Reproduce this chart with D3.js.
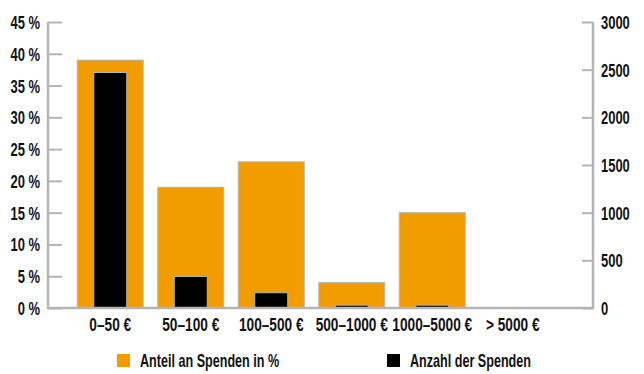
<!DOCTYPE html>
<html>
<head>
<meta charset="utf-8">
<script src="https://cdn.jsdelivr.net/npm/d3@7"></script>
<style>
body { margin: 0; background: #fff; }
text { font-family: "Liberation Sans", Arial, sans-serif; font-weight: bold; fill: #111; }
</style>
</head>
<body>
<svg></svg>
<script>
var categories = ["0–50 €", "50–100 €", "100–500 €", "500–1000 €", "1000–5000 €", "> 5000 €"];
var anteil = [39, 19, 23, 4, 15, 0];
var anzahl = [2470, 330, 160, 30, 30, 0];
var leftTicks = [0, 5, 10, 15, 20, 25, 30, 35, 40, 45];
var rightTicks = [0, 500, 1000, 1500, 2000, 2500, 3000];

var screen = {width: 644, height: 374};
var orange = "#f39c00";
var grey = "#b4b4b8";
var squeeze = 0.72;

// narrow font look: scale text horizontally, keep its anchor point
var condense = function(sel)
{
    sel.each(function()
    {
        var t = d3.select(this);
        var x = +t.attr("x") || 0;
        t.attr("x", x / squeeze).attr("transform", "scale(" + squeeze + ",1)");
    });
}

var svg = d3.select("svg")
    .attr("width", screen.width)
    .attr("height", screen.height);

var xScale = d3.scaleBand()
    .domain(categories)
    .range([70, 553])
    .paddingInner(0.18)
    .paddingOuter(0.09);

var yLeft = d3.scaleLinear().domain([0, 45]).range([308, 22]);
var yRight = d3.scaleLinear().domain([0, 3000]).range([308, 22]);

// orange bars
svg.selectAll("rect.anteil")
    .data(anteil)
    .enter()
    .append("rect")
    .attr("class", "anteil")
    .attr("x", function(d, i){ return xScale(categories[i]); })
    .attr("y", function(d){ return yLeft(d); })
    .attr("width", xScale.bandwidth())
    .attr("height", function(d){ return yLeft(0) - yLeft(d); })
    .attr("fill", orange)
    .attr("stroke", grey)
    .attr("stroke-width", 1)
    .style("display", function(d){ return d > 0 ? null : "none"; });

// black bars
var bw = xScale.bandwidth() * 0.5;
svg.selectAll("rect.anzahl")
    .data(anzahl)
    .enter()
    .append("rect")
    .attr("class", "anzahl")
    .attr("x", function(d, i){ return xScale(categories[i]) + (xScale.bandwidth() - bw) / 2; })
    .attr("y", function(d){ return yRight(d); })
    .attr("width", bw)
    .attr("height", function(d){ return yRight(0) - yRight(d); })
    .attr("fill", "#000")
    .attr("stroke", grey)
    .attr("stroke-width", 1)
    .style("display", function(d){ return d > 0 ? null : "none"; });

// left axis
var leftAxis = d3.axisRight(yLeft)
    .tickValues(leftTicks)
    .tickSize(14)
    .tickFormat(function(d){ return d + " %"; });
var gl = svg.append("g").attr("transform", "translate(48,0)").call(leftAxis);
gl.select(".domain").remove();
gl.attr("font-family", null).attr("font-size", null);
gl.selectAll(".tick line").attr("stroke", grey).attr("stroke-width", 2);
gl.selectAll(".tick text").attr("x", -8).attr("dy", "0.36em").attr("text-anchor", "end")
    .attr("font-size", 18).call(condense);

// right axis
var rightAxis = d3.axisLeft(yRight)
    .tickValues(rightTicks)
    .tickSize(11)
    .tickFormat(function(d){ return d; });
var gr = svg.append("g").attr("transform", "translate(593,0)").call(rightAxis);
gr.select(".domain").remove();
gr.attr("font-family", null).attr("font-size", null);
gr.selectAll(".tick line").attr("stroke", grey).attr("stroke-width", 2);
gr.selectAll(".tick text").attr("x", 8).attr("dy", "0.36em").attr("text-anchor", "start")
    .attr("font-size", 18).call(condense);

// axis frame lines
svg.append("line").attr("x1", 48).attr("x2", 48).attr("y1", 22).attr("y2", 309)
    .attr("stroke", grey).attr("stroke-width", 2.5);
svg.append("line").attr("x1", 593).attr("x2", 593).attr("y1", 22).attr("y2", 309)
    .attr("stroke", grey).attr("stroke-width", 2.5);
svg.append("line").attr("x1", 47).attr("x2", 594).attr("y1", 308).attr("y2", 308)
    .attr("stroke", grey).attr("stroke-width", 2.5);

// category labels
var xAxis = d3.axisBottom(xScale).tickSize(0).tickPadding(0);
var gx = svg.append("g").attr("transform", "translate(0,308)").call(xAxis);
gx.select(".domain").remove();
gx.attr("font-family", null).attr("font-size", null);
gx.selectAll(".tick text").attr("y", 23).attr("dy", 0).attr("font-size", 19).call(condense);

// legend
var legend = [
    {label: "Anteil an Spenden in %", color: orange, x: 117},
    {label: "Anzahl der Spenden", color: "#000", x: 387}
];
var lg = svg.selectAll("g.legend")
    .data(legend)
    .enter()
    .append("g")
    .attr("class", "legend")
    .attr("transform", function(d){ return "translate(" + d.x + ",354)"; });
lg.append("rect").attr("width", 13).attr("height", 13).attr("fill", function(d){ return d.color; });
lg.append("text").attr("x", 23).attr("y", 13).attr("font-size", 17.5)
    .text(function(d){ return d.label; }).call(condense);
</script>
</body>
</html>
